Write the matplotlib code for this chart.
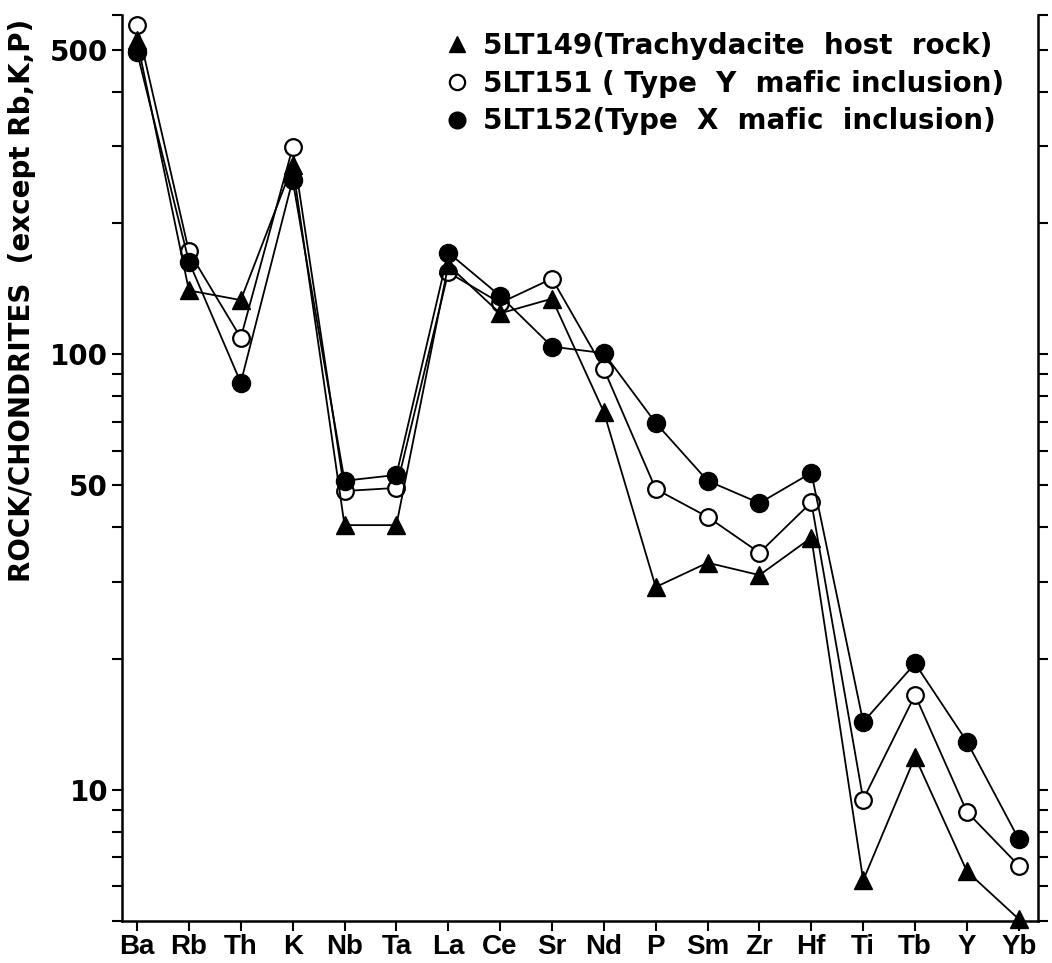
import matplotlib
matplotlib.use("Agg")
import matplotlib.pyplot as plt
from matplotlib.lines import Line2D
from matplotlib.ticker import FixedLocator, NullFormatter, FixedFormatter

elements = ["Ba", "Rb", "Th", "K", "Nb", "Ta", "La", "Ce", "Sr", "Nd",
            "P", "Sm", "Zr", "Hf", "Ti", "Tb", "Y", "Yb"]

lt149 = [525, 140, 133, 271, 40.5, 40.5, 160, 124, 134, 73.6,
         29.2, 33.2, 31.1, 37.9, 6.2, 11.9, 6.5, 5.05]
lt151 = [569, 172, 109, 298, 48.5, 49.3, 154, 131, 149, 92.4,
         49.0, 42.3, 35.0, 45.7, 9.5, 16.5, 8.9, 6.7]
lt152 = [493, 163, 86, 251, 51.2, 52.8, 171, 136, 104, 100.5,
         69.5, 51.2, 45.5, 53.4, 14.3, 19.5, 12.9, 7.7]

labels = ["5LT149(Trachydacite  host  rock)",
          "5LT151 ( Type  Y  mafic inclusion)",
          "5LT152(Type  X  mafic  inclusion)"]

major_ticks = [10, 50, 100, 500]
minor_ticks = [5, 6, 7, 8, 9, 20, 30, 40, 60, 70, 80, 90, 200, 300, 400, 600]

FONT = "Liberation Sans"
WIDE = "DejaVu Sans"
plt.rcParams['font.family'] = [FONT, 'DejaVu Sans']
plt.rcParams['font.weight'] = 'bold'

fig = plt.figure(figsize=(10.52, 9.63), dpi=100)
ax = fig.add_axes([122/1052, 1-921/963, (1038-122)/1052, (921-15)/963])

x = list(range(len(elements)))
lw = 1.3
ms = 13
ax.plot(x, lt151, '-o', color='black', lw=lw, ms=ms-1, mfc='white', mec='black',
        mew=1.6, zorder=3, clip_on=False)
ax.plot(x, lt149, '-^', color='black', lw=lw, ms=ms, mfc='black', mec='black',
        zorder=4, clip_on=False)
ax.plot(x, lt152, '-o', color='black', lw=lw, ms=ms, mfc='black', mec='black',
        zorder=5, clip_on=False)

ax.set_yscale('log')
ax.set_ylim(5, 600)
ax.set_xlim(-0.29, 17.37)

ax.yaxis.set_major_locator(FixedLocator(major_ticks))
ax.yaxis.set_major_formatter(FixedFormatter([str(v) for v in major_ticks]))
ax.yaxis.set_minor_locator(FixedLocator(minor_ticks))
ax.yaxis.set_minor_formatter(NullFormatter())

ax.set_xticks(x)
ax.set_xticklabels(elements, fontsize=20, fontweight='bold', family=FONT)

for lab in ax.get_yticklabels():
    lab.set_fontsize(20)
    lab.set_fontweight('bold')
    lab.set_family(WIDE)

ax.tick_params(axis='y', which='both', direction='out', length=7, width=1.5,
               left=True, right=True, pad=3)
ax.tick_params(axis='x', which='both', direction='out', length=7, width=1.5,
               bottom=True, top=False, pad=2)

ax.spines['top'].set_visible(False)
for s in ['left', 'right', 'bottom']:
    ax.spines[s].set_linewidth(1.8)

fig.text(22/1052, 1-300/963, "ROCK/CHONDRITES  (except Rb,K,P)", rotation=90,
         ha='center', va='center', fontsize=20, fontweight='bold', family=WIDE)

handles = [
    Line2D([], [], marker='^', ls='none', color='black', ms=12),
    Line2D([], [], marker='o', ls='none', mfc='white', mec='black', mew=1.6, ms=11),
    Line2D([], [], marker='o', ls='none', color='black', ms=12),
]
leg = ax.legend(handles, labels, loc='upper left',
                bbox_to_anchor=(429/1052, 1-18/963), bbox_transform=fig.transFigure,
                frameon=False, borderpad=0, handlelength=1.0, handletextpad=0.45,
                labelspacing=0.35, prop={'family': WIDE, 'weight': 'bold', 'size': 20})

fig.savefig("out.png", dpi=100, facecolor='white')
